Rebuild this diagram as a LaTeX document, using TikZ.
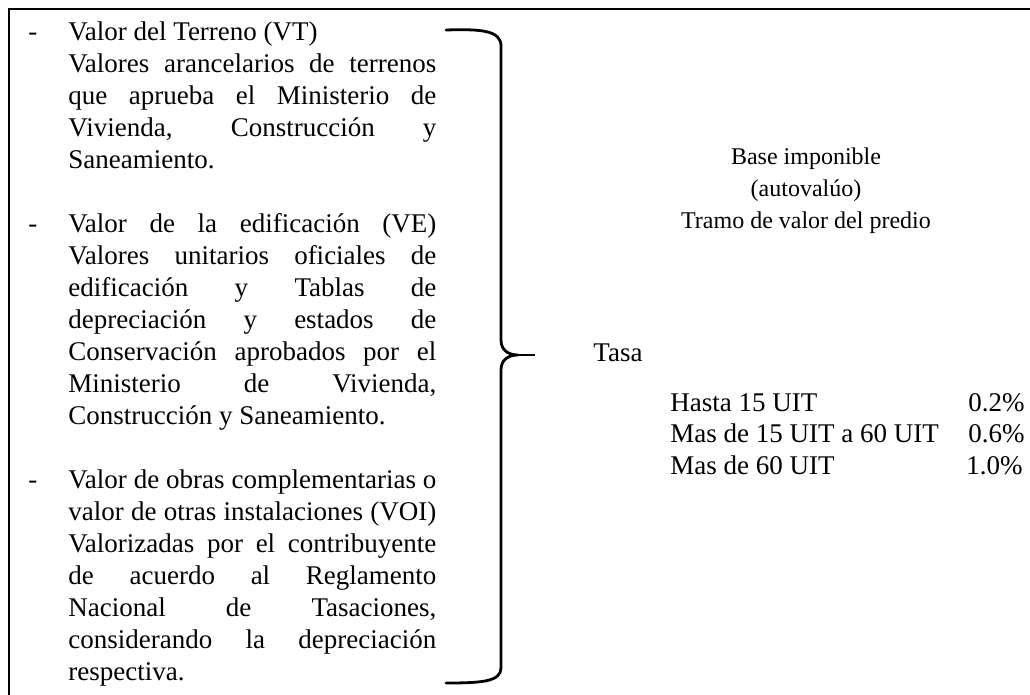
\documentclass[tikz,border=0pt]{standalone}
\usepackage{fontspec}
\setmainfont{Liberation Serif}
\usetikzlibrary{positioning}

\newlength{\parw}
\setlength{\parw}{184pt}
% one justified line of the left column
\newcommand{\jl}[1]{\makebox[\parw][s]{\spaceskip=0pt\xspaceskip=0pt #1}}

\tikzset{
	txt/.style={inner sep=0pt, font=\fontsize{13.5}{16}\selectfont},
	para/.style={txt, anchor=base west, align=justify, text width=\parw},
	brace/.style={line width=1.4pt, line cap=round, line join=round},
}

\begin{document}
\begin{tikzpicture}[x=0.5pt, y=-0.5pt]
	\useasboundingbox (0,0) rectangle (1030,695);
	\draw[line width=0.8pt] (1030,9) -| (9,695);

	% left column
	\node[txt, anchor=base west] (d1) at (28,41) {-};
	\node[para] (vt) at (68,41) {Valor del Terreno (VT)\\
		\jl{Valores arancelarios de terrenos}\\
		\jl{que aprueba el Ministerio de}\\
		\jl{Vivienda, Construcción y}\\
		Saneamiento.};

	\node[txt, anchor=base west] (d2) at (28,233) {-};
	\node[para] (ve) at (68,233) {\jl{Valor de la edificación (VE)}\\
		\jl{Valores unitarios oficiales de}\\
		\jl{edificación y Tablas de}\\
		\jl{depreciación y estados de}\\
		\jl{Conservación aprobados por el}\\
		\jl{Ministerio de Vivienda,}\\
		Construcción y Saneamiento.};

	\node[txt, anchor=base west] (d3) at (28,489) {-};
	\node[para] (voi) at (68,489) {\jl{Valor de obras complementarias o}\\
		\jl{valor de otras instalaciones (VOI)}\\
		\jl{Valorizadas por el contribuyente}\\
		\jl{de acuerdo al Reglamento}\\
		\jl{Nacional de Tasaciones,}\\
		\jl{considerando la depreciación}\\
		respectiva.};

	% brace
	\coordinate (tip) at (518,355);
	\draw[brace] (446,30) .. controls (480,29) and (501,30) .. (501,46)
		-- (501,340) .. controls (501,350) and (508,355) .. (tip)
		.. controls (508,355) and (501,360) .. (501,370)
		-- (501,668) .. controls (501,682) and (480,683) .. (446,683);

	% right column
	\node[txt, anchor=base, font=\fontsize{12}{16}\selectfont, align=center] (base) at (806,229)
		{Base imponible\\(autovalúo)\\Tramo de valor del predio};

	\node[txt, anchor=base west] (tasa) at (593,362) {Tasa};
	\draw[line width=1pt, shorten >=29pt] (tip) -- (tip -| tasa.west);

	\node[txt, anchor=base west] (r1) at (670,412) {Hasta 15 UIT};
	\node[txt, anchor=base west] (r2) at (670,443) {Mas de 15 UIT a 60 UIT};
	\node[txt, anchor=base west] (r3) at (670,475) {Mas de 60 UIT};
	\node[txt, anchor=base west] (p1) at (968,412) {0.2\%};
	\node[txt, anchor=base west] (p2) at (968,443) {0.6\%};
	\node[txt, anchor=base west] (p3) at (966,475) {1.0\%};
\end{tikzpicture}
\end{document}
